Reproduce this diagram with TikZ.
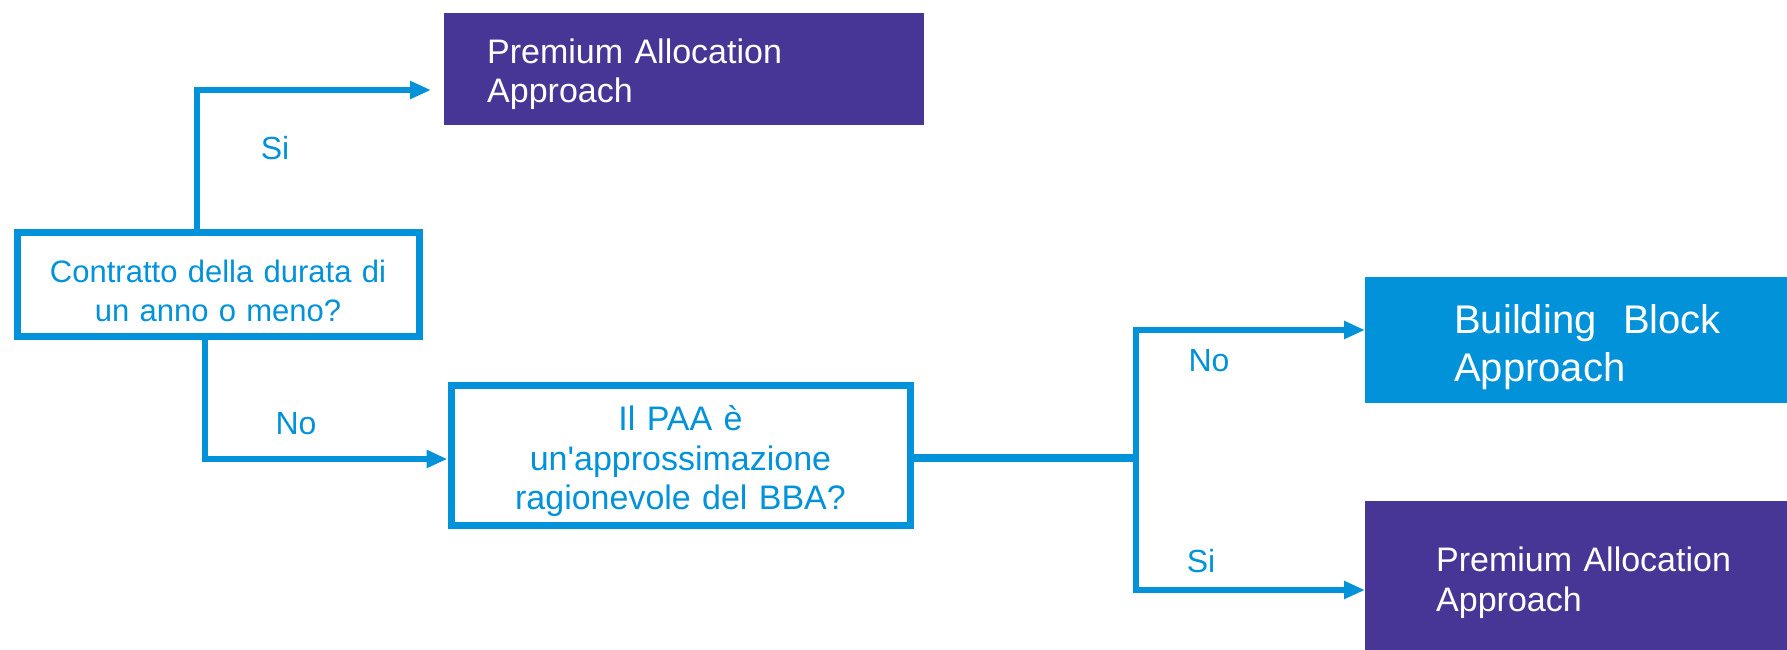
\documentclass[tikz,border=0pt]{standalone}
\usepackage{fontspec}
\setmainfont{Liberation Sans}
\newfontfamily\plainsans{Liberation Sans}
\usetikzlibrary{arrows.meta}
\definecolor{flowblue}{RGB}{2,146,218}
\definecolor{flowpurple}{RGB}{72,54,150}
\tikzset{
  question/.style={draw=flowblue, line width=7pt, fill=white, text=flowblue,
    align=center, inner sep=0pt},
  outcome/.style={draw=none, text=white, align=left, inner ysep=0pt, anchor=west},
  link/.style={draw=flowblue, line width=6.5pt},
  arrowlink/.style={draw=flowblue, line width=5.5pt, -{Triangle[length=21pt,width=17pt]}},
  answer/.style={text=flowblue, font=\fontsize{32}{38}\selectfont},
}
\begin{document}
\begin{tikzpicture}[x=1pt, y=-1pt]
\useasboundingbox (0,0) rectangle (1787,650);

% outcome boxes
\node[outcome, fill=flowpurple, inner xsep=43pt, text width=394pt, minimum height=112pt,
      text depth=36pt, font=\fontsize{34}{39}\selectfont] (paatop) at (444,69) {Premium Allocation\\Approach};
\node[outcome, fill=flowblue, inner xsep=89pt, text width=320pt, minimum height=126pt,
      text depth=42pt, font=\fontsize{40}{48}\selectfont] (bba) at (1365,340) {Building\ \ Block\\Approach};
\node[outcome, fill=flowpurple, inner xsep=71pt, text width=340pt, minimum height=160pt,
      text depth=43pt, font=\fontsize{34}{40}\selectfont] (paabot) at (1365,581) {Premium Allocation\\Approach};

% questions
\node[question, minimum width=402pt, minimum height=104pt, text width=380pt, text depth=26pt,
      font=\fontsize{31}{39}\selectfont] (q1) at (218,284) {Contratto della durata di\\un anno o meno?};
\node[question, minimum width=459pt, minimum height=140pt, text width=420pt, text depth=75pt,
      font=\plainsans\fontsize{34}{39.5}\selectfont] (q2) at (680.5,455.5) {Il PAA è\\un'approssimazione\\ragionevole del BBA?};

% routing points
\coordinate (upturn) at (197,90);
\coordinate (downturn) at (205,459);
\coordinate (hub) at (1136,458);
\coordinate (hubtop) at (1136,330);
\coordinate (hubbot) at (1136,590);
\coordinate (toptip) at (431,90);

% connectors
\draw[arrowlink] (q1.north -| upturn) |- (toptip);
\draw[arrowlink] (q1.south -| downturn) |- (q2.west |- downturn);
\draw[link, line width=7.5pt] (q2.east |- hub) -- (hub);
\draw[link, line cap=rect] (hubtop) -- (hubbot);
\draw[arrowlink] (hubtop) -- (bba.west |- hubtop);
\draw[arrowlink] (hubbot) -- (paabot.west |- hubbot);

% answers
\node[answer] (si1) at (275,148) {Si};
\node[answer] (no1) at (296,424) {No};
\node[answer] (no2) at (1209,361) {No};
\node[answer] (si2) at (1201,561) {Si};
\end{tikzpicture}
\end{document}
